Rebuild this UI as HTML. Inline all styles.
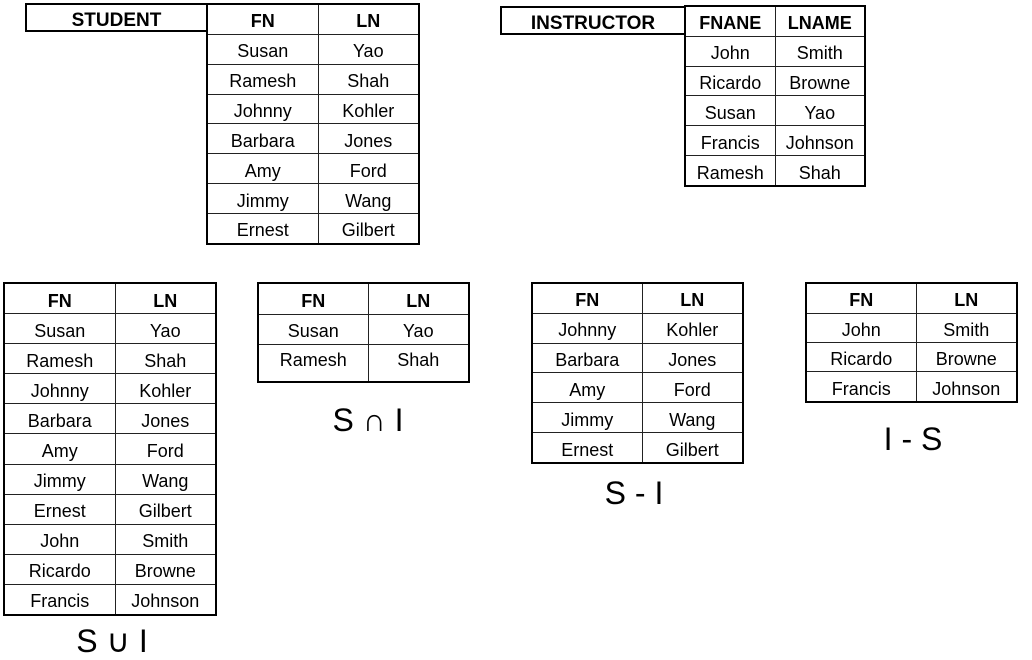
<!DOCTYPE html>
<html><head><meta charset="utf-8"><style>
body{margin:0;width:1032px;height:660px;background:#fff;position:relative;overflow:hidden;font-family:"Liberation Sans",Arial,sans-serif;color:#000}
table{position:absolute;border-collapse:collapse;table-layout:fixed;border:2px solid #000}
td,th{border:1px solid #222;text-align:center;font-size:18px;padding:4px 0 0 0;line-height:18px;vertical-align:middle;white-space:nowrap;overflow:hidden}
th{font-weight:bold}
.lbl{position:absolute;border:2px solid #000;font-weight:bold;font-size:19px;text-align:center;box-sizing:border-box}
.op{position:absolute;font-size:32px;line-height:32px;text-align:center;width:200px}
</style></head><body>

<div class="lbl" style="left:25px;top:3px;width:183px;height:29px;line-height:31px">STUDENT</div>
<table style="left:206px;top:3px;width:212px;height:242px">
<col style="width:111px"><col style="width:101px">
<tr><th>FN</th><th>LN</th></tr>
<tr><td>Susan</td><td>Yao</td></tr>
<tr><td>Ramesh</td><td>Shah</td></tr>
<tr><td>Johnny</td><td>Kohler</td></tr>
<tr><td>Barbara</td><td>Jones</td></tr>
<tr><td>Amy</td><td>Ford</td></tr>
<tr><td>Jimmy</td><td>Wang</td></tr>
<tr><td>Ernest</td><td>Gilbert</td></tr>
</table>

<div class="lbl" style="left:500px;top:6px;width:186px;height:29px;line-height:31px">INSTRUCTOR</div>
<table style="left:684px;top:5px;width:180px;height:182px">
<col style="width:90px"><col style="width:90px">
<tr><th>FNANE</th><th>LNAME</th></tr>
<tr><td>John</td><td>Smith</td></tr>
<tr><td>Ricardo</td><td>Browne</td></tr>
<tr><td>Susan</td><td>Yao</td></tr>
<tr><td>Francis</td><td>Johnson</td></tr>
<tr><td>Ramesh</td><td>Shah</td></tr>
</table>

<table style="left:3px;top:282px;width:212px;height:334px">
<col style="width:111px"><col style="width:101px">
<tr><th>FN</th><th>LN</th></tr>
<tr><td>Susan</td><td>Yao</td></tr>
<tr><td>Ramesh</td><td>Shah</td></tr>
<tr><td>Johnny</td><td>Kohler</td></tr>
<tr><td>Barbara</td><td>Jones</td></tr>
<tr><td>Amy</td><td>Ford</td></tr>
<tr><td>Jimmy</td><td>Wang</td></tr>
<tr><td>Ernest</td><td>Gilbert</td></tr>
<tr><td>John</td><td>Smith</td></tr>
<tr><td>Ricardo</td><td>Browne</td></tr>
<tr><td>Francis</td><td>Johnson</td></tr>
</table>
<div class="op" style="left:12px;top:625px">S ∪ I</div>

<table style="left:257px;top:282px;width:211px;height:101px">
<col style="width:110px"><col style="width:101px">
<tr style="height:31px"><th>FN</th><th>LN</th></tr>
<tr style="height:30px"><td>Susan</td><td>Yao</td></tr>
<tr><td style="padding:0 0 6px 0">Ramesh</td><td style="padding:0 0 6px 0">Shah</td></tr>
</table>
<div class="op" style="left:268px;top:404px">S ∩ I</div>

<table style="left:531px;top:282px;width:211px;height:182px">
<col style="width:110px"><col style="width:101px">
<tr><th>FN</th><th>LN</th></tr>
<tr><td>Johnny</td><td>Kohler</td></tr>
<tr><td>Barbara</td><td>Jones</td></tr>
<tr><td>Amy</td><td>Ford</td></tr>
<tr><td>Jimmy</td><td>Wang</td></tr>
<tr><td>Ernest</td><td>Gilbert</td></tr>
</table>
<div class="op" style="left:534px;top:477px">S - I</div>

<table style="left:805px;top:282px;width:211px;height:121px">
<col style="width:110px"><col style="width:101px">
<tr><th>FN</th><th>LN</th></tr>
<tr><td>John</td><td>Smith</td></tr>
<tr><td>Ricardo</td><td>Browne</td></tr>
<tr><td>Francis</td><td>Johnson</td></tr>
</table>
<div class="op" style="left:813px;top:423px">I - S</div>

</body></html>
